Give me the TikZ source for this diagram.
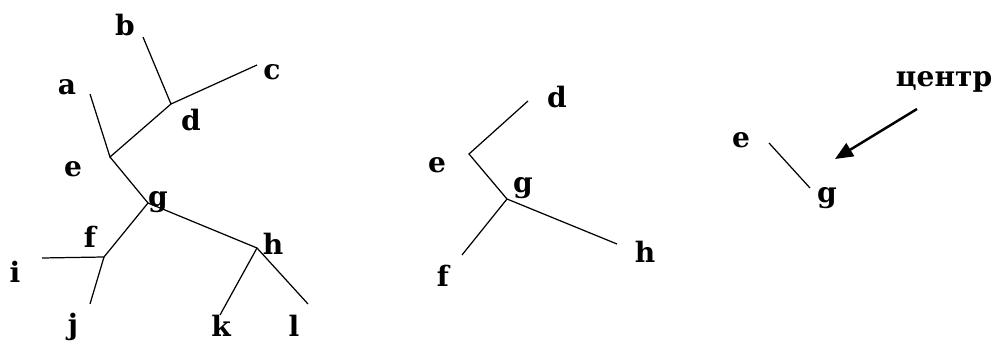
\documentclass[tikz,border=0pt]{standalone}
\usepackage{fontspec}
\setmainfont{DejaVu Serif}
\usetikzlibrary{arrows.meta}

\begin{document}
\begin{tikzpicture}[x=0.02cm,y=-0.02cm,
    edge/.style={line width=0.7pt},
    lbl/.style={font=\bfseries\fontsize{16}{18}\selectfont,inner sep=0pt}]
  \useasboundingbox (0,0) rectangle (992,344);
  % Tree 1: coordinates
  \coordinate (Ta) at (90,94);
  \coordinate (Tb) at (143,37);
  \coordinate (Tc) at (257,65);
  \coordinate (Td) at (171,104);
  \coordinate (Te) at (110,157);
  \coordinate (Tg) at (148,203);
  \coordinate (Tf) at (104,257);
  \coordinate (Th) at (257,248);
  \coordinate (Ti) at (42,258);
  \coordinate (Tj) at (90,304);
  \coordinate (Tk) at (220,315);
  \coordinate (Tl) at (308,304);
  % Tree 1: edges
  \draw[edge] (Tb)--(Td)--(Tc);
  \draw[edge] (Td)--(Te)--(Ta);
  \draw[edge] (Te)--(Tg)--(Th)--(Tl);
  \draw[edge] (Tk)--(Th);
  \draw[edge] (Tg)--(Tf)--(Ti);
  \draw[edge] (Tf)--(Tj);
  % Tree 1: labels
  \node[lbl] (la) at (67,87) {a};
  \node[lbl] (lb) at (125,25) {b};
  \node[lbl] (lc) at (272,72) {c};
  \node[lbl] (ld) at (191,120) {d};
  \node[lbl] (le) at (73,169) {e};
  \node[lbl] (lg) at (158,202) {g};
  \node[lbl] (lf) at (90,237) {f};
  \node[lbl] (lh) at (273,244) {h};
  \node[lbl] (li) at (15,272) {i};
  \node[lbl] (lj) at (73,327) {j};
  \node[lbl] (lk) at (221,326) {k};
  \node[lbl] (ll) at (294,326) {l};

  % Tree 2: coordinates
  \coordinate (Sd) at (528,101);
  \coordinate (Se) at (469,154);
  \coordinate (Sg) at (507,199);
  \coordinate (Sf) at (462,255);
  \coordinate (Sh) at (617,244);
  % Tree 2: edges
  \draw[edge] (Sd)--(Se)--(Sg)--(Sh);
  \draw[edge] (Sg)--(Sf);
  % Tree 2: labels
  \node[lbl] (md) at (557,97) {d};
  \node[lbl] (me) at (437,165) {e};
  \node[lbl] (mg) at (523,188) {g};
  \node[lbl] (mh) at (645,252) {h};
  \node[lbl] (mf) at (443,276) {f};

  % Tree 3: centre
  \coordinate (Re) at (769,143);
  \coordinate (Rg) at (810,188);
  \draw[edge] (Re)--(Rg);
  \node[lbl] (re) at (741,140) {e};
  \node[lbl] (rg) at (827,198) {g};
  \node[lbl] (centr) at (944,82) {центр};
  \coordinate (Atail) at (917,109);
  \coordinate (Ahead) at (835,159);
  \draw[line width=1.4pt,-{Triangle[length=3.6mm,width=3mm]}] (Atail)--(Ahead);
\end{tikzpicture}
\end{document}
